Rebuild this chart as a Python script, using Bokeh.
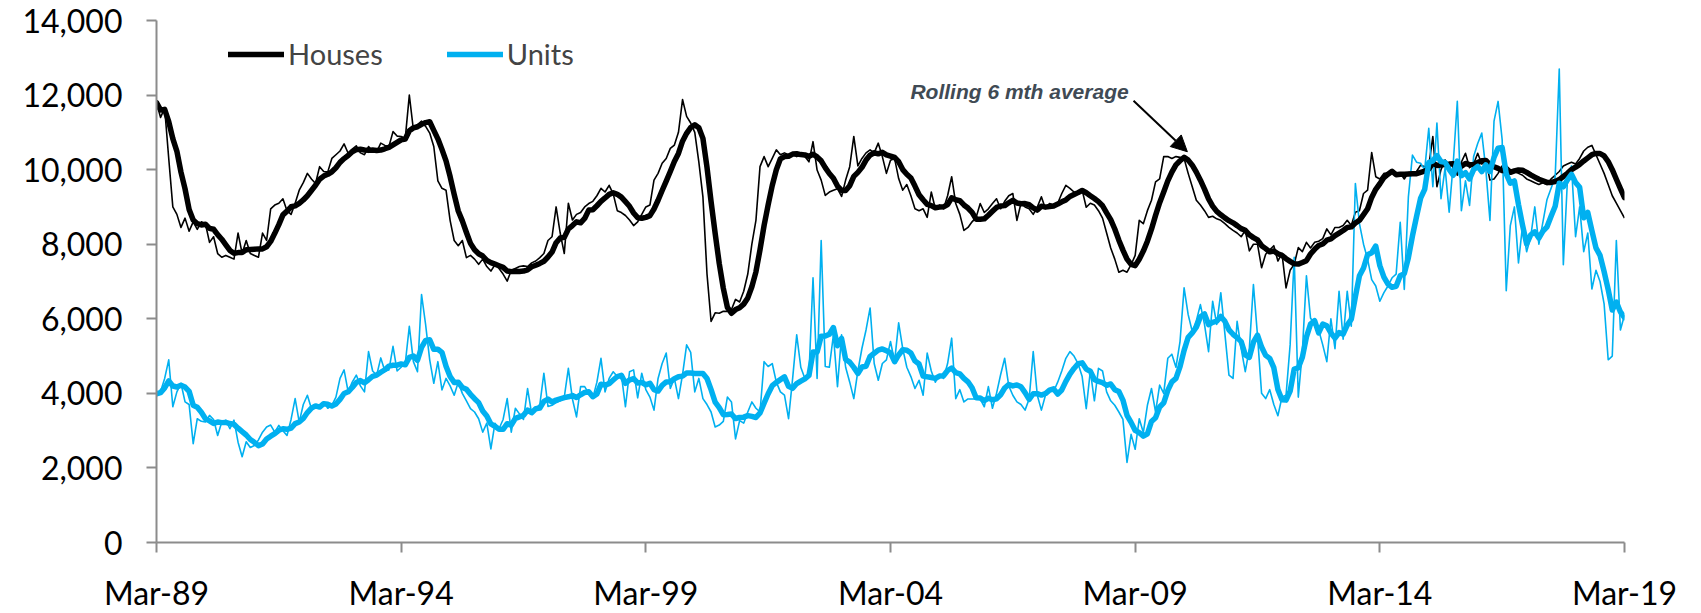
import numpy as np
import pandas as pd
from bokeh.plotting import figure
from bokeh.models import (FixedTicker, NumeralTickFormatter, Legend, LegendItem,
                          Label, Arrow, NormalHead, Range1d)
from bokeh.embed import file_html
from bokeh.resources import INLINE

# x tick labels (every 60 months from Mar-89)
tick_labels = ["Mar-89", "Mar-94", "Mar-99", "Mar-04", "Mar-09", "Mar-14", "Mar-19"]

# Monthly building approvals, Mar-89 .. Mar-19 (361 months)
houses = [
    11800, 11400, 11650, 10300, 9000, 8800, 8450, 8700, 8350, 8600, 8400, 8600,
    8550, 8050, 8200, 7750, 7650, 7700, 7650, 7600, 8300, 7750, 8100, 7750,
    7700, 7650, 8300, 8100, 8950, 9050, 9100, 9220, 8900, 8800, 9100, 9450,
    9650, 9900, 9750, 9630, 10080, 9950, 9940, 10300, 10400, 10500, 10690, 10440,
    10550, 10640, 10450, 10400, 10620, 10500, 10480, 10710, 10650, 10620, 11020, 10900,
    10890, 10840, 12000, 11070, 11200, 11300, 11160, 10980, 10620, 9700, 9500, 9450,
    8640, 8100, 7960, 8100, 7640, 7700, 7600, 7460, 7600, 7400, 7280, 7450,
    7350, 7200, 7010, 7300, 7350, 7400, 7420, 7400, 7500, 7550, 7640, 7750,
    8100, 8200, 9000, 8300, 7750, 9100, 8650, 8800, 8850, 9000, 9090, 9150,
    9300, 9500, 9400, 9580, 9350, 8900, 8850, 8770, 8650, 8500, 8600, 8800,
    9000, 9050, 9720, 9900, 10170, 10300, 10570, 10660, 11000, 11880, 11430, 11250,
    11000, 10200, 9270, 7200, 5930, 6160, 6150, 6200, 6200, 6250, 6520, 6450,
    6740, 7200, 8000, 8640, 10080, 10350, 10080, 10300, 10530, 10400, 10450, 10400,
    10420, 10350, 10400, 10350, 10210, 10750, 9990, 9720, 9310, 9400, 9450, 9490,
    9280, 9720, 10080, 10890, 10100, 10300, 10450, 10530, 10450, 10710, 10350, 9900,
    10250, 10300, 9760, 9450, 9600, 9300, 8950, 8900, 8950, 8720, 9400, 8950,
    9050, 8950, 9300, 9810, 9090, 8800, 8370, 8450, 8600, 8720, 9090, 8850,
    8950, 9090, 9220, 8950, 9150, 9300, 9360, 8640, 9100, 9000, 8950, 8800,
    9000, 9270, 8950, 9090, 9050, 9100, 9360, 9580, 9500, 9400, 9360, 9450,
    8990, 9100, 9050, 8900, 8700, 8300, 7900, 7600, 7250, 7300, 7250, 7450,
    7700, 8640, 8550, 8900, 9180, 9670, 9750, 10350, 10350, 10300, 10350, 10330,
    10300, 9900, 9540, 9180, 9050, 8900, 8720, 8750, 8680, 8640, 8550, 8450,
    8370, 8300, 8200, 8370, 7820, 8000, 8000, 7370, 7730, 7850, 7960, 7550,
    7750, 6830, 7300, 7460, 7910, 7800, 8050, 7900, 8050, 8080, 8150, 8410,
    8250, 8450, 8450, 8500, 8640, 8500, 8860, 8900, 9360, 9450, 10460, 9810,
    9750, 9900, 9900, 9920, 9900, 9900, 9750, 9920, 9930, 9950, 10120, 10080,
    10100, 10890, 9540, 10000, 10260, 10100, 10150, 9850, 10200, 10440, 10050, 10150,
    10440, 10150, 10250, 9720, 9750, 9900, 10100, 10100, 10000, 9950, 9900, 9850,
    9750, 9700, 9650, 9600, 9650, 9600, 9750, 9850, 9950, 10100, 10150, 10200,
    10150, 10300, 10500, 10600, 10650, 10400, 10150, 9900, 9600, 9300, 9100, 8900,
    8700,
]

units = [
    3990, 4050, 4400, 4900, 3640, 4040, 4270, 3770, 3700, 2650, 3320, 3250,
    3230, 3410, 3300, 2870, 3230, 3280, 3050, 3280, 2690, 2300, 2700, 2550,
    2600, 2750, 2960, 3100, 3150, 2960, 3140, 3000, 2870, 3300, 3860, 3230,
    3700, 3950, 3590, 3650, 3680, 3770, 3600, 3680, 3900, 4400, 4630, 4040,
    4300, 4490, 4200, 4040, 5120, 4600, 4490, 4950, 4600, 4630, 5260, 4600,
    4700, 4800, 5800, 4850, 4580, 6650, 5840, 4900, 4270, 4850, 4090, 4400,
    4200, 3950, 4300, 4000, 3800, 3590, 3500, 3320, 2960, 3200, 2510, 3200,
    3050, 3300, 3860, 2960, 3600, 3450, 3300, 4130, 3450, 3600, 3700, 4540,
    3650, 3680, 3750, 3800, 3900, 4670, 3850, 3370, 4180, 4180, 4000, 3880,
    4300, 4940, 4040, 4400, 4580, 4450, 4500, 3640, 4580, 4630, 3880, 4540,
    4100, 3900, 3550, 4400, 4800, 5080, 4130, 4400, 3860, 4500, 5300, 5100,
    4040, 4400, 3860, 3700, 3500, 3100, 3150, 3250, 3900, 3770, 2780, 3270,
    3200, 3500, 3770, 3600, 3500, 4850, 4720, 4800, 4300, 4040, 3950, 3320,
    4400, 5570, 4700, 4400, 4490, 7100, 4400, 8100, 4720, 4700, 5570, 4180,
    5570, 4700, 4300, 3860, 4600, 5210, 5700, 6290, 4800, 4350, 4800, 4900,
    5390, 4850, 5890, 5200, 4700, 4450, 4130, 4350, 3950, 5080, 4600, 4300,
    4500, 4400, 4800, 5480, 3860, 4100, 3770, 3850, 3850, 3850, 3850, 3640,
    4180, 3600, 4000, 4500, 4940, 4200, 3950, 3770, 3700, 3550, 3850, 5120,
    3950, 3550, 3950, 4100, 4050, 4300, 4600, 4940, 5120, 5000, 4800, 4450,
    3590, 4600, 3800, 4670, 4600, 4040, 3800, 3680, 3500, 3300, 2150, 2900,
    2500, 3320, 2950, 3680, 4130, 3500, 4220, 4000, 4940, 5050, 4700, 5390,
    6830, 6110, 5660, 5950, 6380, 5850, 5120, 6470, 5850, 6700, 5600, 4490,
    4400, 5930, 5200, 4580, 5200, 6920, 5550, 4000, 3860, 4100, 3700, 3400,
    3900, 3950, 5300, 7650, 3900, 5120, 7150, 6020, 5850, 5700, 5300, 4850,
    6000, 5200, 6740, 5450, 6740, 5800, 9630, 8550, 8000, 7600, 7050, 6880,
    6470, 6700, 6880, 7100, 7200, 8590, 6790, 9270, 10390, 10200, 10170, 10000,
    11110, 9540, 11250, 9220, 10050, 8860, 10170, 11830, 8900, 9700, 9040, 10350,
    10700, 10980, 10000, 8640, 11300, 11830, 10800, 6750, 8500, 9000, 7500, 8500,
    7800, 8200, 9000, 8000, 8600, 9200, 9500, 9800, 12700, 7450, 9700, 10100,
    8200, 9000, 7800, 8300, 6800, 7300, 7000, 6400, 4900, 5000, 8100, 5700,
    6100,
]

months = list(range(len(houses)))
houses_avg = pd.Series(houses, dtype=float).rolling(6, min_periods=1).mean().tolist()
units_avg = pd.Series(units, dtype=float).rolling(6, min_periods=1).mean().tolist()

BLACK = "#000000"
BLUE = "#00B0F0"
AXIS = "#8C8C8C"
FONT = "Lato"

p = figure(frame_width=1468, frame_height=522,
           x_range=Range1d(0, 360), y_range=Range1d(0, 14000),
           output_backend="svg", toolbar_location=None,
           min_border_left=156, min_border_right=69,
           min_border_top=20, min_border_bottom=68)
p.outline_line_color = None
p.xgrid.visible = False
p.ygrid.visible = False
p.background_fill_color = "white"
p.border_fill_color = "white"

p.line(months, houses, line_color=BLACK, line_width=1.6, line_join="round")
p.line(months, units, line_color=BLUE, line_width=1.6, line_join="round")
r_h = p.line(months, houses_avg, line_color=BLACK, line_width=5.5, line_join="round", line_cap="round")
r_u = p.line(months, units_avg, line_color=BLUE, line_width=5.5, line_join="round", line_cap="round")

# axes
p.xaxis.ticker = FixedTicker(ticks=[i * 60 for i in range(len(tick_labels))])
p.xaxis.major_label_overrides = {i * 60: lab for i, lab in enumerate(tick_labels)}
p.yaxis.ticker = FixedTicker(ticks=list(range(0, 14001, 2000)))
p.yaxis.formatter = NumeralTickFormatter(format="0,0")
for ax in (p.xaxis, p.yaxis):
    ax.axis_line_color = AXIS
    ax.axis_line_width = 2
    ax.major_tick_line_color = AXIS
    ax.major_tick_line_width = 2
    ax.major_tick_out = 10
    ax.major_tick_in = 0
    ax.minor_tick_line_color = None
    ax.major_label_text_font = FONT
    ax.major_label_text_font_size = "32px"
    ax.major_label_text_color = "#000000"
p.xaxis.major_label_standoff = 20
p.yaxis.major_label_standoff = 24

legend = Legend(items=[LegendItem(label="Houses", renderers=[r_h]),
                       LegendItem(label="Units", renderers=[r_u])],
                orientation="horizontal", location=(72, 471),
                background_fill_alpha=0, border_line_alpha=0,
                label_text_font=FONT, label_text_font_size="29px",
                glyph_width=56, glyph_height=30, spacing=64, padding=0,
                margin=0, label_standoff=4)
p.add_layout(legend)

p.add_layout(Label(x=238.4, y=12100, text="Rolling 6 mth average",
                   text_font="Liberation Sans", text_font_style="bold italic",
                   text_font_size="21px", text_color="#404A54",
                   text_align="right", text_baseline="middle"))
p.add_layout(Arrow(end=NormalHead(size=16, fill_color=BLACK, line_color=BLACK),
                   x_start=239.6, y_start=11850, x_end=252.8, y_end=10480,
                   line_color=BLACK, line_width=2))

open("out.html", "w").write(file_html(p, INLINE))
